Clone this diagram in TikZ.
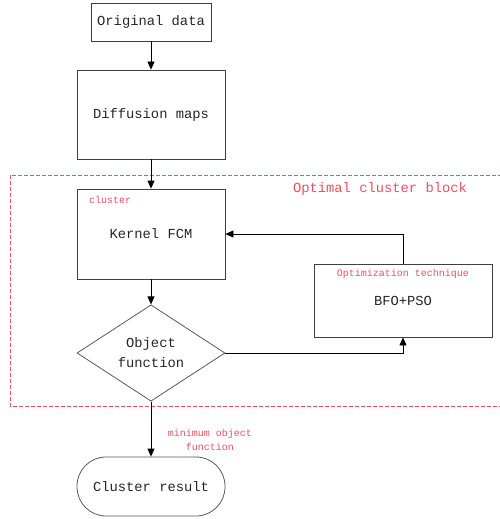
\documentclass[tikz,border=0pt]{standalone}
\usepackage{fontspec}
\setmainfont{Liberation Mono}
\usetikzlibrary{arrows.meta,shapes.geometric}
\definecolor{labelred}{RGB}{236,78,98}
\begin{document}
\begin{tikzpicture}[
    x=1pt, y=-1pt,
    block/.style={rectangle, draw=black!75, line width=0.8pt, text=black!85, font=\fontsize{13.8}{20}\selectfont, minimum width=148pt, align=center, inner sep=0pt},
    decision/.style={diamond, draw=black!65, line width=0.8pt, text=black!85, font=\fontsize{13.8}{20}\selectfont, minimum width=148pt, minimum height=88pt, align=center, inner sep=0pt},
    terminal/.style={rectangle, rounded corners=29pt, draw=black!65, line width=0.8pt, text=black!85, font=\fontsize{13.8}{20}\selectfont, minimum width=148pt, minimum height=59pt, inner sep=0pt},
    tag/.style={text=labelred, font=\fontsize{10}{14}\selectfont, inner sep=0pt, align=center},
    line/.style={draw, line width=0.8pt, -{Triangle[length=8pt,width=7pt]}},
    group/.style={draw=labelred, line width=0.7pt, dash pattern=on 4pt off 2pt}
]
    \useasboundingbox (0,0) rectangle (500,519);
    % optimal cluster block
    \draw [group] (10,175) rectangle (508,406);
    \node [tag, font=\fontsize{13.8}{16}\selectfont] (blocklbl) at (380,189) {Optimal cluster block};

    \node [block, minimum width=120pt, minimum height=38pt] (orig) at (151,22) {Original data};
    \node [block, minimum height=89pt] (diff) at (151,114.5) {Diffusion maps};
    \node [block, minimum height=90pt] (kfcm) at (151,234) {Kernel FCM};
    \node [tag, anchor=west] (clustlbl) at (89,200) {cluster};
    \node [block, minimum width=178pt, minimum height=73pt] (opt) at (403,300.5) {BFO+PSO};
    \node [tag] (optlbl) at (403,274) {Optimization technique};
    \node [decision] (obj) at (151,353) {Object\\function};
    \node [terminal] (result) at (151,486.5) {Cluster result};
    \node [tag, font=\fontsize{10}{14.5}\selectfont] (minlbl) at (210,440) {minimum object\\function};

    \draw [line] (orig) -- (diff);
    \draw [line] (diff) -- (kfcm);
    \draw [line] (kfcm) -- (obj);
    \draw [line] (obj.east) -| (opt.south);
    \draw [line] (opt.north) |- (kfcm.east);
    \draw [line] (obj.south) -- (result.north);
\end{tikzpicture}
\end{document}
